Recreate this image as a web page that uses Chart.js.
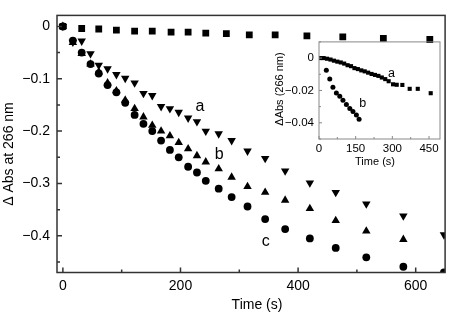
<!DOCTYPE html>
<html>
<head>
<meta charset="utf-8">
<script src="https://cdn.jsdelivr.net/npm/chart.js@4/dist/chart.umd.min.js"></script>
<style>
html, body { margin: 0; padding: 0; background: #fff; }
#wrap { position: relative; width: 450px; height: 313px; }
#main { position: absolute; left: 0; top: 0; }
#inset { position: absolute; left: 265px; top: 30px; }
</style>
</head>
<body>
<div id="wrap">
  <canvas id="main" width="450" height="313"></canvas>
  <canvas id="inset" width="185" height="145"></canvas>
</div>
<script>
// main panel: three runs sampled at the same times, plus the control run
const times = [0, 17, 32, 47, 61, 76, 91, 106, 122, 137, 152, 167, 182, 197, 213, 228, 243, 265, 287, 314, 344, 378, 420, 464, 516, 579, 648];
const seriesA = [0, -0.030, -0.028, -0.052, -0.074, -0.081, -0.092, -0.099, -0.108, -0.128, -0.132, -0.153, -0.157, -0.164, -0.175, -0.182, -0.200, -0.205, -0.218, -0.238, -0.252, -0.276, -0.299, -0.317, -0.339, -0.362, -0.398];
const seriesB = [0, -0.031, -0.052, -0.072, -0.087, -0.108, -0.123, -0.141, -0.157, -0.173, -0.189, -0.200, -0.209, -0.222, -0.234, -0.247, -0.259, -0.272, -0.288, -0.306, -0.317, -0.332, -0.348, -0.371, -0.391, -0.407];
const seriesC = [0, -0.027, -0.050, -0.072, -0.090, -0.112, -0.126, -0.146, -0.169, -0.186, -0.200, -0.218, -0.236, -0.250, -0.268, -0.279, -0.295, -0.310, -0.326, -0.344, -0.368, -0.387, -0.405, -0.423, -0.441, -0.459, -0.470];
const controlTimes = [0, 32, 61, 91, 122, 152, 184, 213, 243, 278, 317, 361, 415, 476, 545, 624];
const controlVals = [0, -0.004, -0.005, -0.007, -0.009, -0.009, -0.011, -0.011, -0.013, -0.014, -0.016, -0.016, -0.018, -0.020, -0.023, -0.025];

const xTicks = [0, 200, 400, 600];
const xMinor = [100, 300, 500];
const yTicks = [0, -0.1, -0.2, -0.3, -0.4];
const yMinor = [-0.05, -0.15, -0.25, -0.35, -0.45];
const mainLabels = [['a', 233, -0.153], ['b', 266, -0.244], ['c', 345, -0.411]];

// inset
const insetTimesA = [5, 19, 33, 47, 61, 75, 89, 103, 117, 131, 145, 159, 173, 187, 201, 215, 229, 243, 257, 271, 285, 303, 318, 341, 371, 404, 457];
const insetA = [0, 0, -0.0004, -0.0009, -0.0016, -0.0022, -0.0027, -0.0034, -0.0044, -0.0050, -0.0062, -0.0068, -0.0076, -0.0082, -0.0090, -0.0098, -0.0104, -0.0110, -0.0120, -0.0130, -0.0143, -0.0162, -0.0165, -0.0166, -0.0190, -0.0190, -0.0217];
const insetTimesB = [30, 44, 57, 71, 85, 98, 112, 126, 139, 153, 164];
const insetB = [-0.0075, -0.0129, -0.0180, -0.0216, -0.0236, -0.0260, -0.0287, -0.0311, -0.0330, -0.0352, -0.0378];
const insetXTicks = [0, 150, 300, 450];
const insetXMinor = [75, 225, 375];
const insetYTicks = [0, -0.02, -0.04];
const insetYMinor = [0.01, -0.01, -0.03, -0.05];
const insetLabels = [['a', 296, -0.0095], ['b', 179, -0.0279]];

const FONT = "'Liberation Sans', Arial, sans-serif";
const pts = (xs, ys) => ys.map((y, i) => ({ x: xs[i], y }));
const minus = (s) => s.replace('-', '\u2212');

function framePlugin(o) {
    return {
        id: 'frame',
        afterDatasetsDraw(chart) {
            const { ctx, chartArea: a, scales: { x, y } } = chart;
            ctx.save();
            ctx.strokeStyle = o.color;
            ctx.lineWidth = o.lw;
            ctx.strokeRect(a.left, a.top, a.right - a.left, a.bottom - a.top);
            ctx.beginPath();
            const xt = (list, len) => list.forEach((v) => {
                const px = x.getPixelForValue(v);
                ctx.moveTo(px, a.bottom); ctx.lineTo(px, a.bottom - len);
            });
            const yt = (list, len) => list.forEach((v) => {
                const py = y.getPixelForValue(v);
                ctx.moveTo(a.left, py); ctx.lineTo(a.left + len, py);
            });
            xt(o.xMajor, o.major); xt(o.xMinor, o.minor);
            yt(o.yMajor, o.major); yt(o.yMinor, o.minor);
            ctx.stroke();

            ctx.fillStyle = '#000';
            ctx.textAlign = 'center';
            ctx.textBaseline = 'middle';
            ctx.font = o.labelFont;
            o.labels.forEach(([txt, vx, vy]) => ctx.fillText(txt, x.getPixelForValue(vx), y.getPixelForValue(vy)));

            ctx.font = o.titleFont;
            ctx.fillText(o.xTitle[0], o.xTitle[1], o.xTitle[2]);
            ctx.translate(o.yTitle[1], o.yTitle[2]);
            ctx.rotate(-Math.PI / 2);
            ctx.fillText(o.yTitle[0], 0, 0);
            ctx.restore();
        },
    };
}

function axes(o) {
    return {
        x: {
            type: 'linear', min: o.xMin, max: o.xMax,
            grid: { display: false, drawTicks: false }, border: { display: false },
            afterBuildTicks: (s) => { s.ticks = o.xTicks.map((value) => ({ value })); },
            afterFit: (s) => { s.height = o.xH; },
            ticks: { color: '#000', padding: o.xPad, maxRotation: 0, font: { family: FONT, size: o.fs }, callback: (v) => String(v) },
        },
        y: {
            type: 'linear', min: o.yMin, max: o.yMax,
            grid: { display: false, drawTicks: false }, border: { display: false },
            afterBuildTicks: (s) => { s.ticks = o.yTicks.map((value) => ({ value })); },
            afterFit: (s) => { s.width = o.yW; },
            ticks: { color: '#000', padding: o.yPad, font: { family: FONT, size: o.fs }, callback: (v) => (v === 0 ? '0' : minus(v.toFixed(o.dec))) },
        },
    };
}

const mk = (data, style, r, rot) => ({
    data, showLine: false, pointStyle: style, pointRadius: r, pointHoverRadius: r,
    pointRotation: rot || 0, backgroundColor: '#000', borderColor: '#000', borderWidth: 0,
});

new Chart(document.getElementById('main'), {
    type: 'scatter',
    data: {
        datasets: [
            mk(pts(times, seriesC), 'circle', 3.9),
            mk(pts(times, seriesB), 'triangle', 4.9),
            mk(pts(times, seriesA), 'triangle', 4.9, 180),
            mk(pts(controlTimes, controlVals), 'rect', 4.8),
        ],
    },
    options: {
        responsive: false, animation: false, events: [],
        layout: { padding: { top: 0.5, right: 1, left: 0, bottom: 0 } },
        plugins: { legend: { display: false }, tooltip: { enabled: false } },
        scales: axes({ xMin: -10, xMax: 650, yMin: -0.47, yMax: 0.021, xTicks, yTicks, xH: 40.5, yW: 57, xPad: 5, yPad: 7, fs: 14, dec: 1 }),
    },
    plugins: [framePlugin({
        color: '#333', lw: 1.5, major: 5, minor: 3,
        xMajor: xTicks, xMinor, yMajor: yTicks, yMinor,
        labels: mainLabels, labelFont: '16px ' + FONT, titleFont: '14px ' + FONT,
        xTitle: ['Time (s)', 257, 305], yTitle: ['\u0394 Abs at 266 nm', 9, 154],
    })],
});

new Chart(document.getElementById('inset'), {
    type: 'scatter',
    data: {
        datasets: [
            mk(pts(insetTimesB, insetB), 'circle', 2.5),
            mk(pts(insetTimesA, insetA), 'rect', 2.9),
        ],
    },
    options: {
        responsive: false, animation: false, events: [],
        layout: { padding: { top: 10, right: 10, left: 0, bottom: 0 } },
        plugins: { legend: { display: false }, tooltip: { enabled: false } },
        scales: axes({ xMin: 0, xMax: 495, yMin: -0.05, yMax: 0.01, xTicks: insetXTicks, yTicks: insetYTicks, xH: 36, yW: 54, xPad: 3, yPad: 5, fs: 11.5, dec: 2 }),
    },
    plugins: [framePlugin({
        color: '#888', lw: 1, major: 3, minor: 2,
        xMajor: insetXTicks, xMinor: insetXMinor, yMajor: insetYTicks, yMinor: insetYMinor,
        labels: insetLabels, labelFont: '12.5px ' + FONT, titleFont: '11px ' + FONT,
        xTitle: ['Time (s)', 110, 132], yTitle: ['\u0394Abs (266 nm)', 15, 59],
    })],
});
</script>
</body>
</html>
